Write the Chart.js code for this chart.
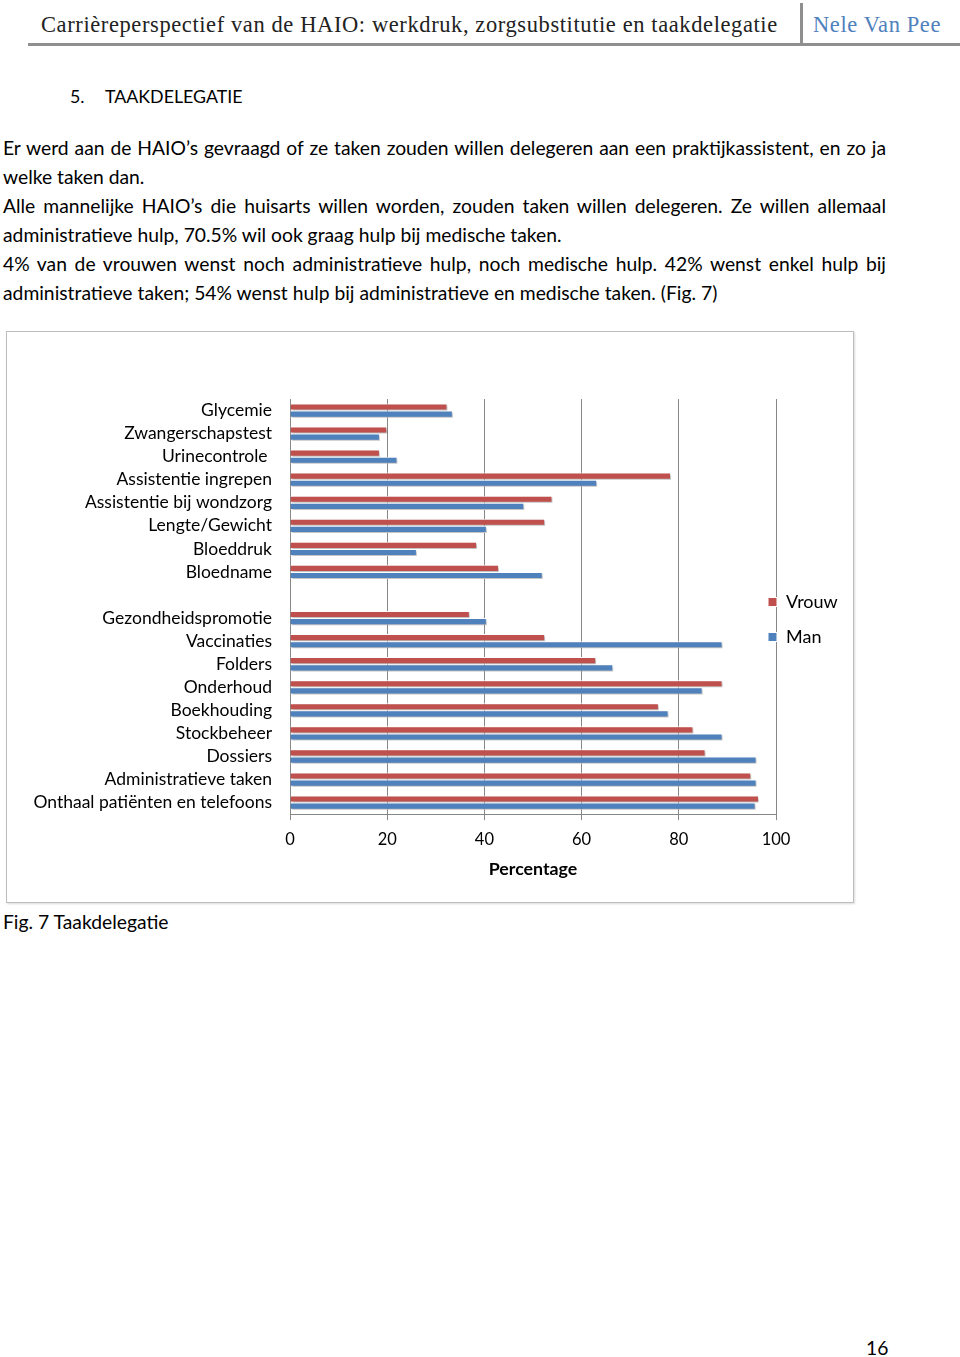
<!DOCTYPE html>
<html>
<head>
<meta charset="utf-8">
<script src="https://cdn.jsdelivr.net/npm/chart.js@4.4.1/dist/chart.umd.min.js"></script>
<style>
  body { margin: 0; background: #fff; font-family: Lato, "Open Sans", sans-serif; color: #000; }
  #page { position: relative; width: 960px; height: 1357px; overflow: hidden; }
  .abs { position: absolute; white-space: nowrap; }
  .hdr { font-family: "Liberation Serif", serif; font-size: 22.5px; letter-spacing: 0.6px; line-height: 28px; top: 11px; }
  .line { position: absolute; left: 3px; width: 883px; font-size: 19.3px; line-height: 29px; white-space: nowrap; }
  .just { text-align: justify; text-align-last: justify; white-space: normal; }
  #chartBox { position: absolute; left: 6px; top: 331px; width: 846px; height: 570px; border: 1.5px solid #bdbdbd; box-shadow: 1px 1px 2px rgba(0,0,0,0.15); }
  #chartWrap { position: absolute; left: 8px; top: 333px; width: 844px; height: 568px; }
</style>
</head>
<body>
<div id="page">
  <div class="abs hdr" style="left:41px; color:#222;">Carrièreperspectief van de HAIO: werkdruk, zorgsubstitutie en taakdelegatie</div>
  <div class="abs hdr" style="left:813px; color:#4f81bd;">Nele Van Pee</div>
  <div class="abs" style="left:800px; top:3px; width:3px; height:43px; background:#8f8f8f;"></div>
  <div class="abs" style="left:28px; top:43px; width:932px; height:3px; background:#8f8f8f;"></div>

  <div class="abs" style="left:70px; top:82px; font-size:17.8px; line-height:29px;">5.</div>
  <div class="abs" style="left:105px; top:82px; font-size:17.8px; line-height:29px;">TAAKDELEGATIE</div>

  <div class="line just" style="top:133px;">Er werd aan de HAIO’s gevraagd of ze taken zouden willen delegeren aan een praktijkassistent, en zo ja</div>
  <div class="line" style="top:162px;">welke taken dan.</div>
  <div class="line just" style="top:191px;">Alle mannelijke HAIO’s die huisarts willen worden, zouden taken willen delegeren. Ze willen allemaal</div>
  <div class="line" style="top:220px;">administratieve hulp, 70.5% wil ook graag hulp bij medische taken.</div>
  <div class="line just" style="top:249px;">4% van de vrouwen wenst noch administratieve hulp, noch medische hulp. 42% wenst enkel hulp bij</div>
  <div class="line" style="top:278px;">administratieve taken; 54% wenst hulp bij administratieve en medische taken. (Fig. 7)</div>

  <div id="chartBox"></div>
  <div id="chartWrap"><canvas id="taakChart"></canvas></div>

  <div class="abs" style="left:3px; top:907px; font-size:19.3px; line-height:29px;">Fig. 7 Taakdelegatie</div>
  <div class="abs" style="left:866px; top:1333px; font-size:19.3px; line-height:29px;">16</div>
</div>

<script>
// categories, top to bottom (empty one is the gap in the chart)
const categories = [
  "Glycemie", "Zwangerschapstest", "Urinecontrole ", "Assistentie ingrepen",
  "Assistentie bij wondzorg", "Lengte/Gewicht", "Bloeddruk", "Bloedname", "",
  "Gezondheidspromotie", "Vaccinaties", "Folders", "Onderhoud", "Boekhouding",
  "Stockbeheer", "Dossiers", "Administratieve taken", "Onthaal patiënten en telefoons"
];

// percentages
const vrouw = [32.4, 20.0, 18.5, 78.4, 54.0, 52.5, 38.5, 43.0, null, 37.0, 52.5, 63.0, 89.0, 75.9, 83.0, 85.5, 94.9, 96.5];
const man   = [33.5, 18.5, 22.1, 63.2, 48.2, 40.5, 26.1, 52.0, null, 40.5, 89.0, 66.5, 84.9, 77.9, 89.0, 96.0, 96.0, 95.8];

const xTicks = [0, 20, 40, 60, 80, 100];

const RED = "#c0504d";
const BLUE = "#4f81bd";
const GRID = "#878787";
const FONT = "Lato";

// soft shadow under the bars, like the Excel original
const barShadow = {
  id: "barShadow",
  beforeDatasetsDraw(chart) {
    const ctx = chart.ctx;
    ctx.save();
    ctx.shadowColor = "rgba(0,0,0,0.28)";
    ctx.shadowBlur = 2;
    ctx.shadowOffsetX = 1.5;
    ctx.shadowOffsetY = 1.5;
  },
  afterDatasetsDraw(chart) {
    chart.ctx.restore();
  }
};

// legend sits over the right edge of the plot, as in the original
const legendShift = {
  id: "legendShift",
  afterLayout(chart) {
    const lg = chart.legend;
    const pad = lg.options.labels.padding;
    lg.left = chart.chartArea.right - 8 - pad;
    lg.right = chart.width;
    lg.width = lg.right - lg.left;
    lg.top -= 20;
    lg.bottom -= 20;
  }
};

const ctx = document.getElementById("taakChart").getContext("2d");

new Chart(ctx, {
  type: "bar",
  data: {
    labels: categories,
    datasets: [
      {
        label: "Vrouw",
        data: vrouw,
        backgroundColor: RED,
        borderColor: "#ffffff",
        borderWidth: 1,
        borderSkipped: "start",
        categoryPercentage: 0.62,
        barPercentage: 1.0
      },
      {
        label: "Man",
        data: man,
        backgroundColor: BLUE,
        borderColor: "#ffffff",
        borderWidth: 1,
        borderSkipped: "start",
        categoryPercentage: 0.62,
        barPercentage: 1.0
      }
    ]
  },
  options: {
    indexAxis: "y",
    responsive: true,
    maintainAspectRatio: false,
    animation: false,
    layout: {
      padding: { top: 66, bottom: 21, left: 0, right: 0 }
    },
    plugins: {
      legend: {
        position: "right",
        maxWidth: 76,
        labels: {
          boxWidth: 9,
          boxHeight: 9,
          padding: 17,
          color: "#000",
          font: { family: FONT, size: 18 }
        }
      },
      tooltip: { enabled: false }
    },
    scales: {
      x: {
        min: 0,
        max: 100,
        afterBuildTicks: (scale) => {
          scale.ticks = xTicks.map(v => ({ value: v }));
        },
        grid: {
          color: GRID,
          lineWidth: 1,
          tickLength: 6,
          drawTicks: true
        },
        border: { display: true, color: GRID },
        ticks: {
          padding: 11,
          color: "#000",
          font: { family: FONT, size: 16.5, lineHeight: 1.0 }
        },
        title: {
          display: true,
          text: "Percentage",
          color: "#000",
          padding: { top: 0, bottom: 0 },
          font: { family: FONT, size: 17.8, weight: "bold" }
        }
      },
      y: {
        afterFit: (scale) => { scale.width = 282; },
        grid: { display: false, drawTicks: false },
        border: { display: true, color: GRID },
        ticks: {
          autoSkip: false,
          padding: 18,
          color: "#000",
          font: { family: FONT, size: 17.5 }
        }
      }
    }
  },
  plugins: [barShadow, legendShift]
});
</script>
</body>
</html>
